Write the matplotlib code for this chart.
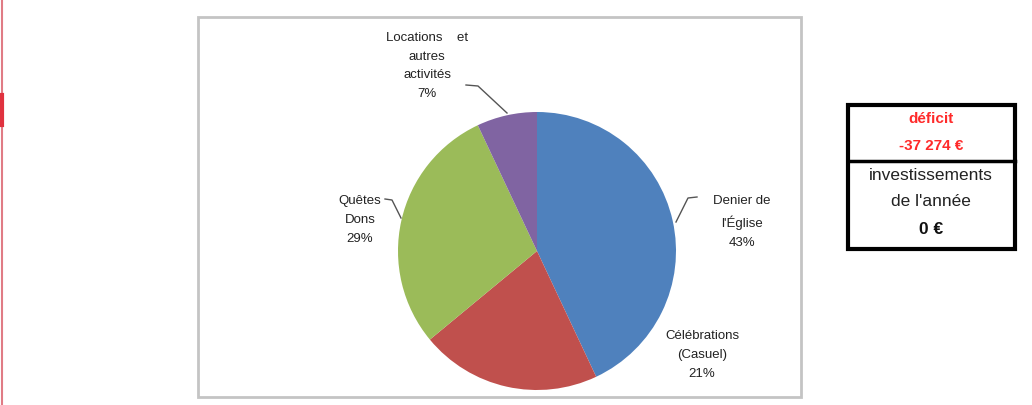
import matplotlib.pyplot as plt
from matplotlib.patches import Rectangle

# Données
categories = ["Denier de\nl'Église", "Célébrations\n(Casuel)", "Quêtes\nDons", "Locations    et\nautres\nactivités"]
parts = [43, 21, 29, 7]
couleurs = ["#4F81BD", "#C0504D", "#9BBB59", "#8064A2"]

W, H = 1032, 405
fig = plt.figure(figsize=(W / 100, H / 100), dpi=100)
ax = fig.add_axes([0, 0, 1, 1])

plt.rcParams['font.family'] = ['Liberation Sans', 'DejaVu Sans']

# trait rouge à gauche
ax.plot([2, 2], [0, H], color="#e07b85", lw=1.5)
ax.plot([2, 2], [H - 95, H - 125], color="#e0323f", lw=3)

# cadre du graphique
ax.add_patch(Rectangle((198, H - 397), 603, 380, fill=False, ec="#c4c4c4", lw=2))

# camembert
cx, cy, r = 537, H - 251, 139
wedges, _ = ax.pie(parts, colors=couleurs, startangle=90, counterclock=False,
                   center=(cx, cy), radius=r, frame=True,
                   wedgeprops=dict(lw=0))
ax.set_xlim(0, W)
ax.set_ylim(0, H)
ax.set_aspect("equal")
ax.axis("off")

etiquettes = [f"{c}\n{p}%" for c, p in zip(categories, parts)]
pos_txt = [(742, H - 222), (702, H - 355), (360, H - 220), (427, H - 66)]
for txt, (x, y) in zip(etiquettes, pos_txt):
    ax.text(x, y, txt, ha="center", va="center", fontsize=9.5,
            linespacing=1.75, color="#222222")

# traits de rappel
lignes = [
    [(697, H - 197), (688, H - 198), (676, H - 222)],
    [(385, H - 199), (392, H - 200), (401, H - 218)],
    [(466, H - 85), (478, H - 86), (507, H - 113)],
]
for pts in lignes:
    xs, ys = zip(*pts)
    ax.plot(xs, ys, color="#555555", lw=1)

# encadré déficit
ax.add_patch(Rectangle((848, H - 249), 167, 144, fill=False, ec="black", lw=3))
ax.plot([848, 1015], [H - 161, H - 161], color="black", lw=2.5)
ax.text(931, H - 119, "déficit", ha="center", va="center", fontsize=11,
        color="#ff2a2a", fontweight="bold")
ax.text(931, H - 146, "-37 274 €", ha="center", va="center", fontsize=11,
        color="#ff2a2a", fontweight="bold")
ax.text(931, H - 175, "investissements", ha="center", va="center", fontsize=12.5,
        color="#222222")
ax.text(931, H - 201, "de l'année", ha="center", va="center", fontsize=12.5,
        color="#222222")
ax.text(931, H - 229, "0 €", ha="center", va="center", fontsize=12.5,
        color="#111111", fontweight="bold")

fig.savefig("out.png", dpi=100)
